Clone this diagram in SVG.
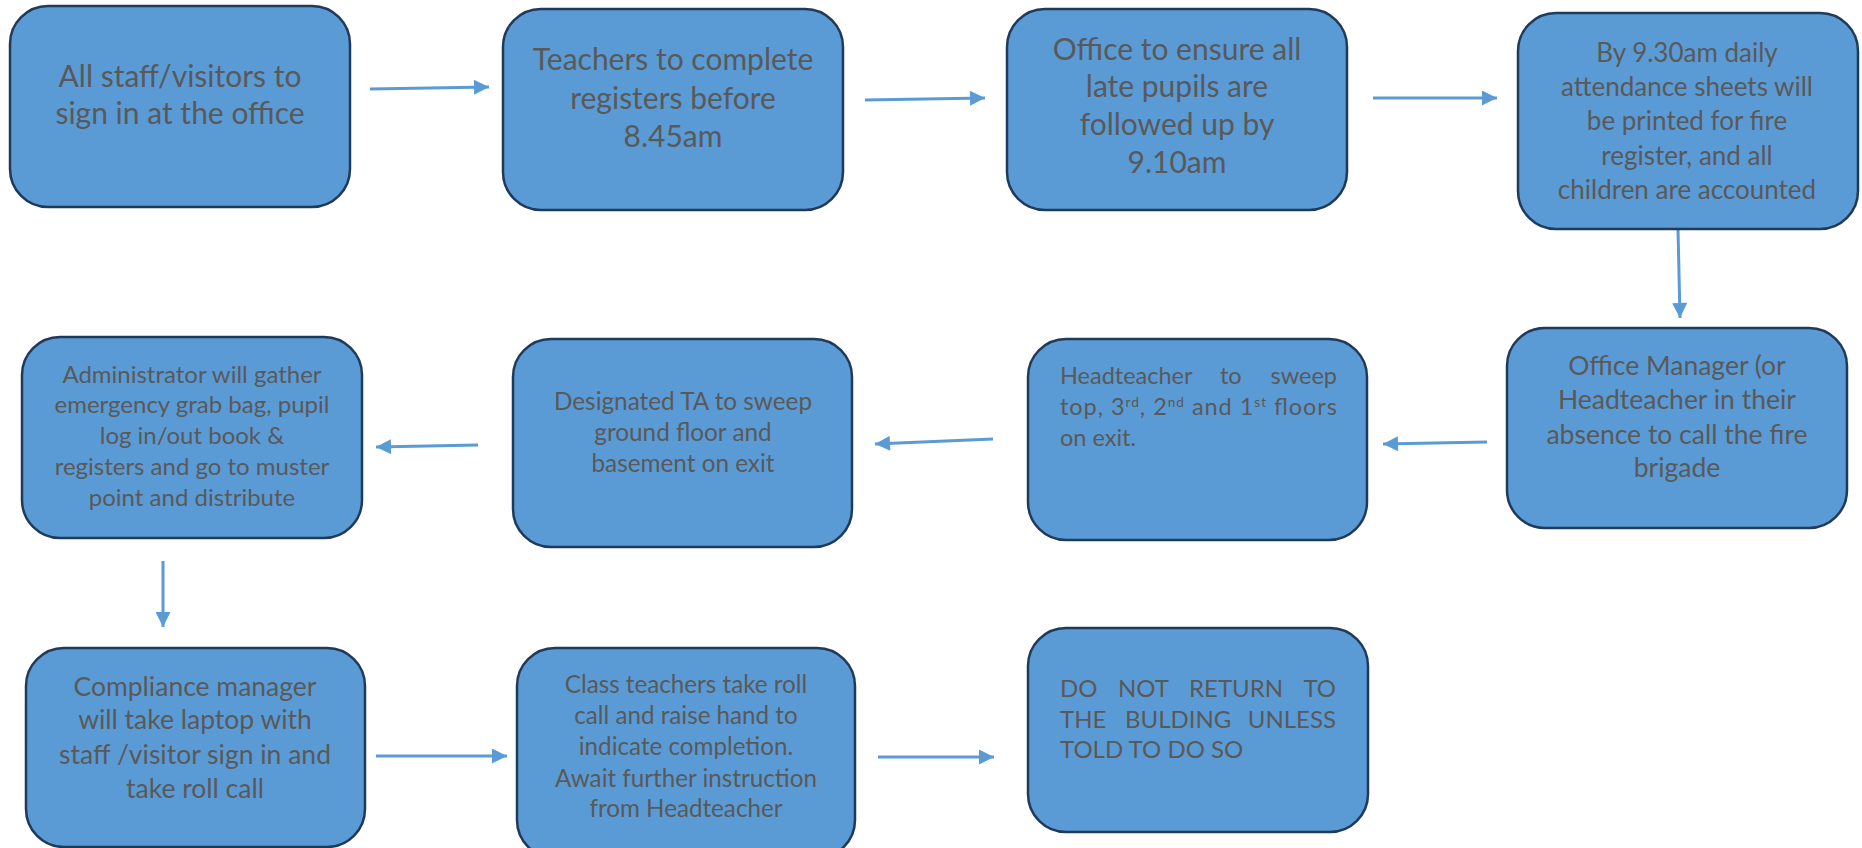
<svg xmlns="http://www.w3.org/2000/svg" width="1862" height="848" viewBox="0 0 1862 848">
<defs>
<style>
.box{fill:#5B9BD5;stroke:#1F3A5A;stroke-width:2.5}
.t{font-family:Lato,"Liberation Sans",sans-serif;fill:#595959;text-anchor:middle}
.l{text-anchor:start}
.e{text-anchor:end}
.c{stroke:#5B9BD5;stroke-width:3;fill:none;marker-end:url(#ah)}
.sup{font-size:58%}
</style>
<marker id="ah" viewBox="0 0 10 10" refX="10" refY="5" markerUnits="userSpaceOnUse" markerWidth="16" markerHeight="15" orient="auto">
<path d="M0,0 L10,5 L0,10 Z" fill="#5B9BD5"/>
</marker>
</defs>
<rect width="1862" height="848" fill="#ffffff"/>
<g id="connectors">
<line class="c" x1="370" y1="89" x2="489" y2="87"/>
<line class="c" x1="865" y1="100" x2="985" y2="98"/>
<line class="c" x1="1373" y1="98" x2="1497" y2="98"/>
<line class="c" x1="1678" y1="229" x2="1680" y2="318"/>
<line class="c" x1="1487" y1="442" x2="1383" y2="444"/>
<line class="c" x1="993" y1="439" x2="875" y2="444"/>
<line class="c" x1="478" y1="445" x2="376" y2="447"/>
<line class="c" x1="163" y1="561" x2="163" y2="627"/>
<line class="c" x1="376" y1="756" x2="507" y2="756"/>
<line class="c" x1="878" y1="757" x2="994" y2="757"/>
</g>
<g id="n1">
<rect class="box" x="10" y="6" width="340" height="201" rx="38"/>
<text class="t" font-size="30"><tspan x="180" y="87">All staff/visitors to</tspan><tspan x="180" y="124">sign in at the office</tspan></text>
</g>
<g id="n2">
<rect class="box" x="503" y="9" width="340" height="201" rx="38"/>
<text class="t" font-size="30"><tspan x="673" y="70">Teachers to complete</tspan><tspan x="673" y="109">registers before</tspan><tspan x="673" y="147">8.45am</tspan></text>
</g>
<g id="n3">
<rect class="box" x="1007" y="9" width="340" height="201" rx="38"/>
<text class="t" font-size="30"><tspan x="1177" y="60">Office to ensure all</tspan><tspan x="1177" y="97">late pupils are</tspan><tspan x="1177" y="135">followed up by</tspan><tspan x="1177" y="173">9.10am</tspan></text>
</g>
<g id="n4">
<rect class="box" x="1518" y="13" width="340" height="216" rx="38"/>
<text class="t" font-size="26"><tspan x="1687" y="62">By 9.30am daily</tspan><tspan x="1687" y="96">attendance sheets will</tspan><tspan x="1687" y="130">be printed for fire</tspan><tspan x="1687" y="165">register, and all</tspan><tspan x="1687" y="199">children are accounted</tspan></text>
</g>
<g id="n5">
<rect class="box" x="1507" y="328" width="340" height="200" rx="38"/>
<text class="t" font-size="26.5"><tspan x="1677" y="375">Office Manager (or</tspan><tspan x="1677" y="409">Headteacher in their</tspan><tspan x="1677" y="444">absence to call the fire</tspan><tspan x="1677" y="477">brigade</tspan></text>
</g>
<g id="n6">
<rect class="box" x="1028" y="339" width="339" height="201" rx="38"/>
<text class="t l" font-size="23.5" x="1060" y="384">Headteacher</text>
<text class="t l" font-size="23.5" x="1220" y="384">to</text>
<text class="t e" font-size="23.5" x="1337" y="384">sweep</text>
<text class="t l" font-size="23.5" x="1060" y="415" textLength="277" lengthAdjust="spacing">top, 3<tspan class="sup" dy="-8">rd</tspan><tspan dy="8">, 2</tspan><tspan class="sup" dy="-8">nd</tspan><tspan dy="8"> and 1</tspan><tspan class="sup" dy="-8">st</tspan><tspan dy="8"> floors</tspan></text>
<text class="t l" font-size="23.5" x="1060" y="446">on exit.</text>
</g>
<g id="n7">
<rect class="box" x="513" y="339" width="339" height="208" rx="38"/>
<text class="t" font-size="24.3"><tspan x="683" y="410">Designated TA to sweep</tspan><tspan x="683" y="441">ground floor and</tspan><tspan x="683" y="472">basement on exit</tspan></text>
</g>
<g id="n8">
<rect class="box" x="22" y="337" width="340" height="201" rx="38"/>
<text class="t" font-size="24"><tspan x="192" y="383">Administrator will gather</tspan><tspan x="192" y="413">emergency grab bag, pupil</tspan><tspan x="192" y="444">log in/out book &amp;</tspan><tspan x="192" y="475">registers and go to muster</tspan><tspan x="192" y="506">point and distribute</tspan></text>
</g>
<g id="n9">
<rect class="box" x="26" y="648" width="339" height="199" rx="38"/>
<text class="t" font-size="26.5"><tspan x="195" y="696">Compliance manager</tspan><tspan x="195" y="729">will take laptop with</tspan><tspan x="195" y="764">staff /visitor sign in and</tspan><tspan x="195" y="798">take roll call</tspan></text>
</g>
<g id="n10">
<rect class="box" x="517" y="648" width="338" height="210" rx="38"/>
<text class="t" font-size="24.2"><tspan x="686" y="693">Class teachers take roll</tspan><tspan x="686" y="724">call and raise hand to</tspan><tspan x="686" y="755">indicate completion.</tspan><tspan x="686" y="787">Await further instruction</tspan><tspan x="686" y="817">from Headteacher</tspan></text>
</g>
<g id="n11">
<rect class="box" x="1028" y="628" width="340" height="204" rx="38"/>
<text class="t l" font-size="24" x="1060" y="697">DO</text>
<text class="t l" font-size="24" x="1118" y="697">NOT</text>
<text class="t l" font-size="24" x="1189" y="697">RETURN</text>
<text class="t e" font-size="24" x="1336" y="697">TO</text>
<text class="t l" font-size="24" x="1060" y="728">THE</text>
<text class="t l" font-size="24" x="1125" y="728">BULDING</text>
<text class="t e" font-size="24" x="1336" y="728">UNLESS</text>
<text class="t l" font-size="24" x="1060" y="758">TOLD TO DO SO</text>
</g>
</svg>
